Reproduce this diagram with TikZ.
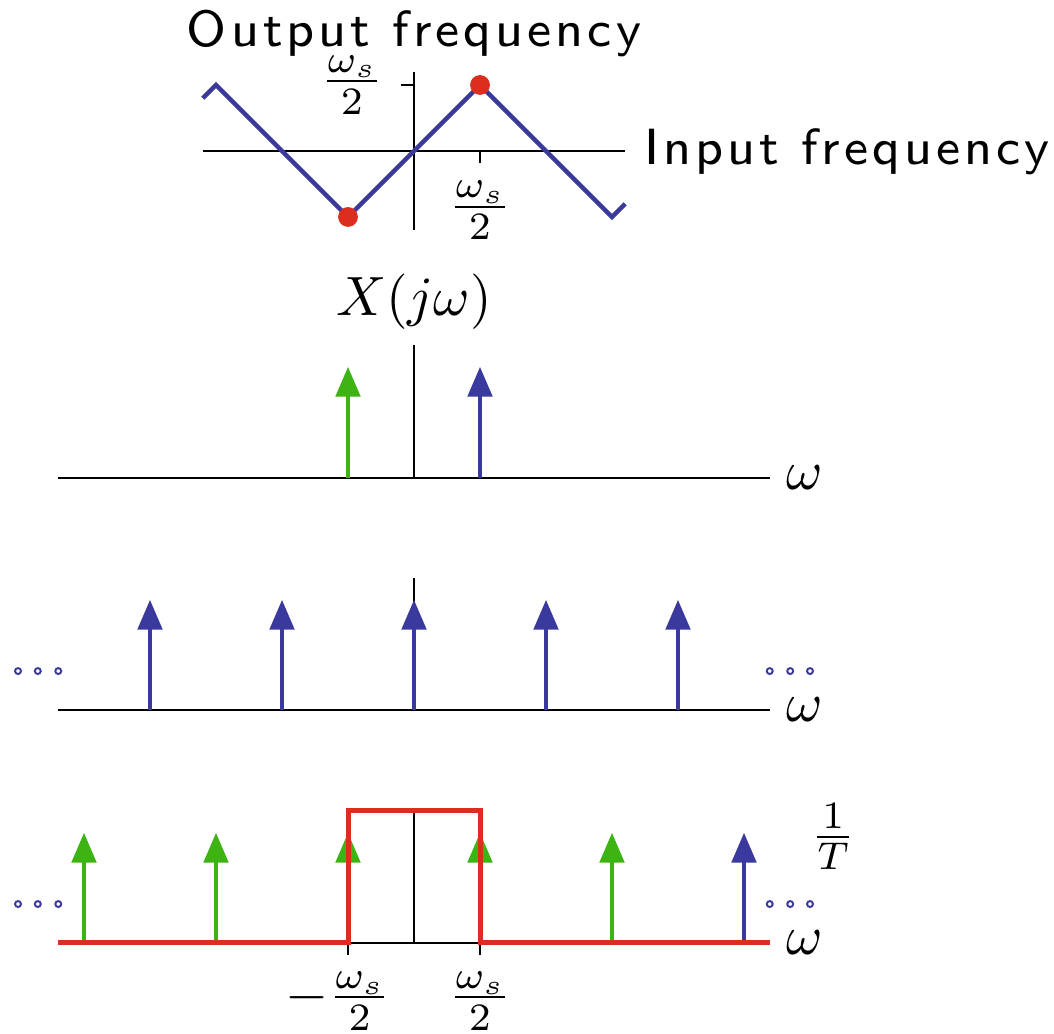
\documentclass[tikz,border=0pt]{standalone}
\usepackage{amsmath}
\usepackage{fontspec}
\usepackage{tikz}
\usetikzlibrary{arrows.meta}
\newfontfamily\labelfont{lmsans8-regular.otf}[LetterSpace=8]
\definecolor{sblue}{RGB}{58,58,158}
\definecolor{sgreen}{RGB}{62,180,20}
\definecolor{sred}{RGB}{220,45,30}

\begin{document}
\begin{tikzpicture}[scale=0.419,
    axis/.style={line width=0.4pt, black},
    stick/.style={line width=0.75pt, -{Triangle[length=5.4pt,width=4.4pt]}},
    dotty/.style={sblue, line width=0.35pt},
    label/.style={inner sep=0pt, font=\fontsize{9.2}{11}\labelfont}]
    \useasboundingbox (-6.273,-1.379) rectangle (9.697,14.288);
    % input / output frequency
    \draw[axis] (-3.2,12) -- (3.2,12);
    \draw[axis] (0,10.8) -- (0,13.2);
    \draw[axis] (-0.2,13) -- (0,13);
    \draw[axis] (1,12) -- (1,11.82);
    \draw[sblue, line width=0.8pt] (-3.2,12.8) -- (-3,13) -- (-1,11) -- (1,13) -- (3,11) -- (3.2,11.2);
    \fill[sred] (1,13) circle (0.15);
    \fill[sred] (-1,11) circle (0.15);
    \node[label, anchor=base] at (0,13.59) {Output frequency};
    \node[label, anchor=base west] at (3.47,11.79) {Input frequency};
    \node at (-0.94,13) {$\frac{\omega_s}{2}$};
    \node at (1,11.1) {$\frac{\omega_s}{2}$};
    % spectrum
    \draw[axis] (-5.4,7.045) -- (5.4,7.045);
    \draw[axis] (0,7.045) -- (0,9.06);
    \draw[stick, sgreen] (-1,7.045) -- (-1,8.73);
    \draw[stick, sblue] (1,7.045) -- (1,8.73);
    \node at (0,9.71) {$X(j\omega)$};
    \node at (5.92,7.045) {$\omega$};
    % sampled spectrum
    \draw[axis] (-5.4,3.53) -- (5.4,3.53);
    \draw[axis] (0,3.53) -- (0,5.53);
    \draw[stick, sblue] (-4,3.53) -- (-4,5.2);
    \draw[stick, sblue] (-2,3.53) -- (-2,5.2);
    \draw[stick, sblue] (0,3.53) -- (0,5.2);
    \draw[stick, sblue] (2,3.53) -- (2,5.2);
    \draw[stick, sblue] (4,3.53) -- (4,5.2);
    \draw[dotty] (-6,4.12) circle (0.045) (-5.7,4.12) circle (0.045) (-5.39,4.12) circle (0.045);
    \draw[dotty] (5.39,4.12) circle (0.045) (5.7,4.12) circle (0.045) (6,4.12) circle (0.045);
    \node at (5.92,3.53) {$\omega$};
    % reconstruction filter
    \draw[axis] (-5.4,0) -- (5.4,0);
    \draw[axis] (0,0) -- (0,2);
    \draw[axis] (-1,0) -- (-1,-0.18);
    \draw[axis] (1,0) -- (1,-0.18);
    \draw[stick, sgreen] (-5,0) -- (-5,1.67);
    \draw[stick, sgreen] (-3,0) -- (-3,1.67);
    \draw[stick, sgreen] (-1,0) -- (-1,1.67);
    \draw[stick, sgreen] (1,0) -- (1,1.67);
    \draw[stick, sgreen] (3,0) -- (3,1.67);
    \draw[stick, sblue] (5,0) -- (5,1.67);
    \draw[sred, line width=0.9pt] (-5.4,0) -- (-1,0) -- (-1,2) -- (1,2) -- (1,0) -- (5.4,0);
    \draw[dotty] (-6,0.59) circle (0.045) (-5.7,0.59) circle (0.045) (-5.39,0.59) circle (0.045);
    \draw[dotty] (5.39,0.59) circle (0.045) (5.7,0.59) circle (0.045) (6,0.59) circle (0.045);
    \node at (5.92,0) {$\omega$};
    \node at (6.35,1.61) {$\frac{1}{T}$};
    \node at (-1.15,-0.88) {$-\frac{\omega_s}{2}$};
    \node at (1,-0.88) {$\frac{\omega_s}{2}$};
\end{tikzpicture}
\end{document}
